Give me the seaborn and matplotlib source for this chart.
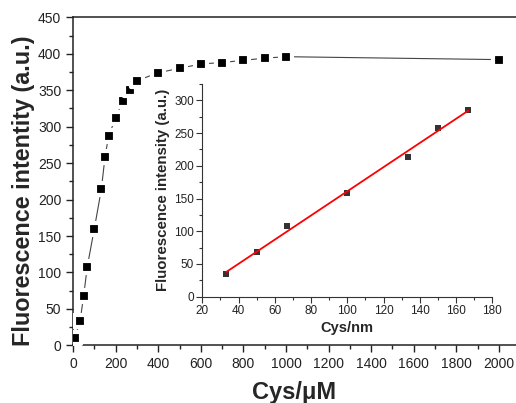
import numpy as np
import pandas as pd
import matplotlib
matplotlib.use('Agg')
import matplotlib.pyplot as plt
import seaborn as sns
from matplotlib.ticker import MultipleLocator

# main curve: fluorescence vs Cys concentration (uM)
cys_um = [8, 33, 50, 67, 100, 133, 150, 167, 200, 233, 267, 300,
          400, 500, 600, 700, 800, 900, 1000, 2000]
intensity = [10, 33, 68, 108, 160, 214, 258, 287, 312, 335, 350, 363,
             374, 380, 386, 388, 391, 394, 396, 392]

# inset: linear range (nm)
cys_nm = [33.3, 50, 66.7, 100, 133.3, 150, 166.7]
intensity_nm = [34, 69, 108, 159, 213, 258, 286]

sns.set_style('ticks')
plt.rcParams['font.family'] = ['Liberation Sans', 'DejaVu Sans']
plt.rcParams['xtick.direction'] = 'out'
plt.rcParams['ytick.direction'] = 'out'

main_df = pd.DataFrame({'cys': cys_um, 'fl': intensity})
ins_df = pd.DataFrame({'cys': cys_nm, 'fl': intensity_nm})

fig = plt.figure(figsize=(5.16, 4.03), dpi=100)
ax = fig.add_axes([0.1415, 0.143, 0.8585, 0.814])

# line first, then markers with white rim to give the gap look
sns.lineplot(data=main_df, x='cys', y='fl', ax=ax, color='#444444',
             linewidth=0.8, zorder=2)
sns.scatterplot(data=main_df, x='cys', y='fl', ax=ax, marker='s', s=64,
                color='black', edgecolor='white', linewidth=3, zorder=3)

ax.set_xlim(0, 2080)
ax.set_ylim(0, 450)
ax.xaxis.set_major_locator(MultipleLocator(200))
ax.xaxis.set_minor_locator(MultipleLocator(100))
ax.yaxis.set_major_locator(MultipleLocator(50))
ax.yaxis.set_minor_locator(MultipleLocator(25))
ax.tick_params(which='major', length=5, width=1, labelsize=10,
               labelcolor='#222222', color='#222222')
ax.tick_params(which='minor', length=3, width=1, color='#222222')
ax.spines['right'].set_visible(False)
for s in ['top', 'left', 'bottom']:
    ax.spines[s].set_linewidth(1.1)
    ax.spines[s].set_color('#222222')

ax.set_xlabel('Cys/\u03bcM', fontsize=17, fontweight='bold')
ax.set_ylabel('Fluorescence intentity (a.u.)', fontsize=16.8, fontweight='bold')
ax.xaxis.set_label_coords(0.5, -0.11)
ax.yaxis.set_label_coords(-0.085, 0.47)

# inset
axin = fig.add_axes([0.392, 0.2638, 0.562, 0.5278])
axin.set_facecolor('none')
sns.regplot(data=ins_df, x='cys', y='fl', ax=axin, ci=None, marker='s',
            scatter_kws={'s': 17, 'color': 'black', 'linewidths': 0, 'zorder': 2},
            line_kws={'color': 'red', 'linewidth': 1.3, 'zorder': 3})
axin.set_xlim(20, 180)
axin.set_ylim(0, 325)
axin.xaxis.set_major_locator(MultipleLocator(20))
axin.xaxis.set_minor_locator(MultipleLocator(10))
axin.yaxis.set_major_locator(MultipleLocator(50))
axin.yaxis.set_minor_locator(MultipleLocator(25))
axin.tick_params(which='major', length=4, width=0.8, labelsize=8.5,
                 labelcolor='#222222', color='#333333', pad=2)
axin.tick_params(which='minor', length=2.5, width=0.8, color='#333333')
axin.spines['top'].set_visible(False)
axin.spines['right'].set_visible(False)
for s in ['left', 'bottom']:
    axin.spines[s].set_linewidth(0.8)
    axin.spines[s].set_color('#333333')
axin.set_xlabel('Cys/nm', fontsize=10.5, fontweight='bold')
axin.set_ylabel('Fluorescence intensity (a.u.)', fontsize=10.8, fontweight='bold')
axin.xaxis.set_label_coords(0.5, -0.115)
axin.yaxis.set_label_coords(-0.11, 0.5)

fig.savefig('out.png', dpi=100)
